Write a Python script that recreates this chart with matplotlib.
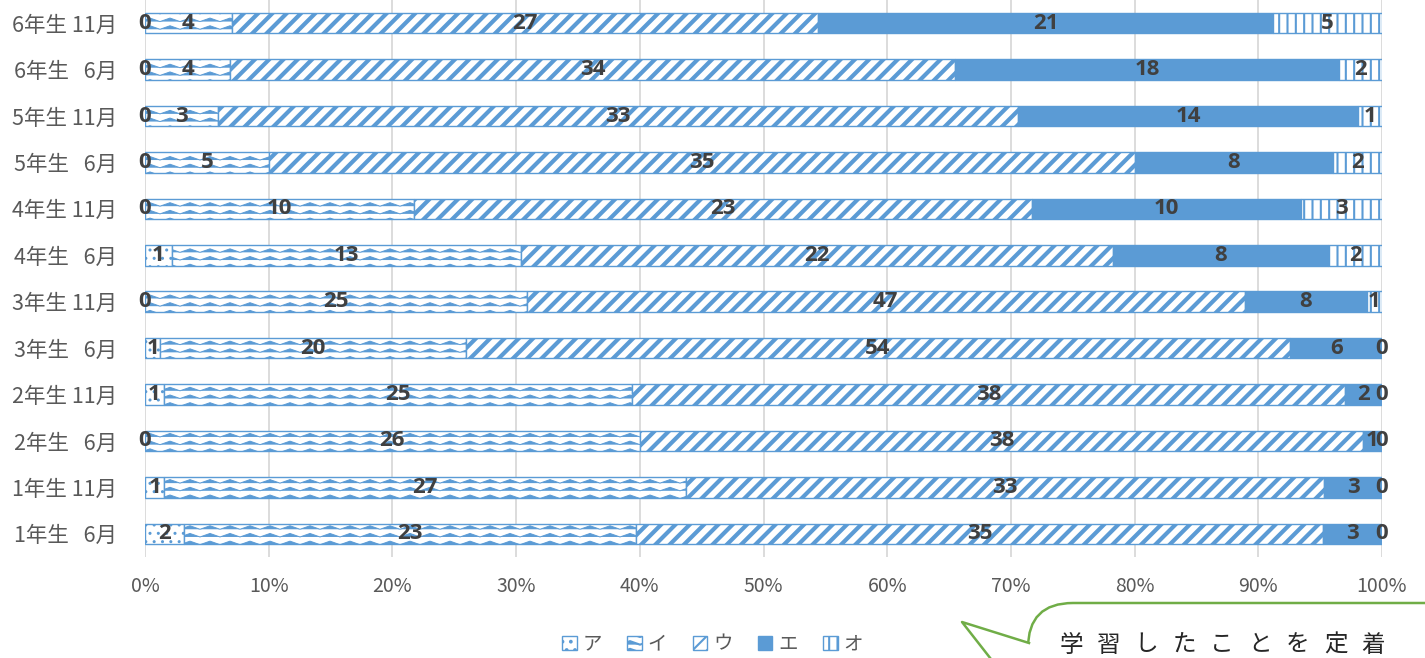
import numpy as np
import matplotlib
matplotlib.use('Agg')
import matplotlib.pyplot as plt
from matplotlib import hatch as mhatch
from matplotlib.path import Path
from matplotlib.patches import FancyBboxPatch, Polygon
from matplotlib.lines import Line2D
from matplotlib.transforms import IdentityTransform

plt.rcParams['font.family'] = ['Noto Sans CJK JP', 'DejaVu Sans']

# data, bottom row first
categories = ['1年生   6月', '1年生 11月', '2年生   6月', '2年生 11月',
              '3年生   6月', '3年生 11月', '4年生   6月', '4年生 11月',
              '5年生   6月', '5年生 11月', '6年生   6月', '6年生 11月']
series_names = ['ア', 'イ', 'ウ', 'エ', 'オ']
vals_a = [2, 1, 0, 1, 1, 0, 1, 0, 0, 0, 0, 0]
vals_i = [23, 27, 26, 25, 20, 25, 13, 10, 5, 3, 4, 4]
vals_u = [35, 33, 38, 38, 54, 47, 22, 23, 35, 33, 34, 27]
vals_e = [3, 3, 1, 2, 6, 8, 8, 10, 8, 14, 18, 21]
vals_o = [0, 0, 0, 0, 0, 1, 2, 3, 2, 1, 2, 5]
xtick_labels = ['0%', '10%', '20%', '30%', '40%', '50%', '60%', '70%', '80%', '90%', '100%']


# custom hatches: 'O' -> wavy rows, '*' -> wide diagonal stripes
class WaveHatch(mhatch.HatchPatternBase):
    def __init__(self, hatch, density):
        self.num_rows = hatch.count('O') * 13
        self.per_row = 2 * 5 + 1
        self.num_vertices = self.num_rows * self.per_row

    def set_vertices_and_codes(self, vertices, codes):
        xs = np.linspace(0, 1, self.per_row)
        bump = np.where(np.arange(self.per_row) % 2 == 0, 0.0, 0.035)
        k = 0
        for r in range(self.num_rows):
            vertices[k:k + self.per_row, 0] = xs
            vertices[k:k + self.per_row, 1] = r / self.num_rows + 0.015 + bump
            codes[k] = Path.MOVETO
            codes[k + 1:k + self.per_row] = Path.LINETO
            k += self.per_row


class DiagHatch(mhatch.HatchPatternBase):
    def __init__(self, hatch, density):
        self.offsets = np.arange(-7, 8) / 7 if hatch.count('*') else np.array([])
        self.num_vertices = len(self.offsets) * 2

    def set_vertices_and_codes(self, vertices, codes):
        vertices[0::2, 0] = self.offsets
        vertices[0::2, 1] = 0
        vertices[1::2, 0] = self.offsets + 1
        vertices[1::2, 1] = 1
        codes[0::2] = Path.MOVETO
        codes[1::2] = Path.LINETO


mhatch._hatch_types = [t for t in mhatch._hatch_types
                       if t not in (mhatch.LargeCircles, mhatch.Stars)] + [WaveHatch, DiagHatch]

blue = '#5B9BD5'
data = np.array([vals_a, vals_i, vals_u, vals_e, vals_o], dtype=float)
frac = data / data.sum(axis=0)
hatches = ['..', 'O', '*', None, '||']
hatch_lw = [1.0, 0.7, 3.0, 1.0, 1.5]

fig = plt.figure(figsize=(14.25, 6.58), dpi=100)
ax = fig.add_axes([145 / 1425, 1 - 557 / 658, 1237 / 1425, 557 / 658])

y = np.arange(len(categories))
left = np.zeros(len(categories))
containers = []
for k in range(5):
    plt.rcParams['hatch.linewidth'] = hatch_lw[k]
    bc = ax.barh(y, frac[k], left=left, height=0.44,
                 color=blue if k == 3 else 'white', edgecolor=blue,
                 linewidth=1.0, hatch=hatches[k], zorder=2)
    for p in bc:
        if hasattr(p, 'set_hatch_linewidth'):
            p.set_hatch_linewidth(hatch_lw[k])
    ax.bar_label(bc, labels=[str(int(v)) for v in data[k]], label_type='center',
                 fontsize=16, fontweight='bold', color='#404040',
                 family=['Open Sans', 'DejaVu Sans'], zorder=5)
    containers.append(bc)
    left += frac[k]

ax.set_xlim(0, 1)
ax.set_ylim(-0.5, len(categories) - 0.5)
ax.set_xticks(np.linspace(0, 1, 11))
ax.set_xticklabels(xtick_labels)
ax.set_yticks(y)
ax.set_yticklabels(categories)
ax.tick_params(axis='both', length=0, labelcolor='#595959')
ax.tick_params(axis='x', pad=14, labelsize=14)
ax.tick_params(axis='y', pad=20, labelsize=15.5)
ax.grid(axis='x', color='#D9D9D9', linewidth=1.3)
ax.set_axisbelow(True)
for s in ax.spines.values():
    s.set_visible(False)

fig.legend(containers, series_names, loc='center', bbox_to_anchor=(0.5, 1 - 644 / 658),
           ncol=5, frameon=False, fontsize=14, labelcolor='#595959',
           handlelength=0.75, handleheight=0.75, handletextpad=0.3, columnspacing=1.3)

# speech bubble at bottom right
H = 658
tr = IdentityTransform()
green = '#70AD47'
box = FancyBboxPatch((1028, H - 760), 500, 157, boxstyle='round,pad=0,rounding_size=45',
                     fc='white', ec=green, lw=1.8, transform=tr, zorder=5)
fig.add_artist(box)
tail = Polygon([(962, H - 622), (1029, H - 643), (1038, H - 645), (1038, H - 720), (1023, H - 700)],
               closed=True, fc='white', ec='none', transform=tr, zorder=6)
fig.add_artist(tail)
fig.add_artist(Line2D([1023, 962, 1029], [H - 700, H - 622, H - 643], color=green, lw=1.8,
                      transform=tr, zorder=7))
bubble_text = '学習したことを定着'
for n, ch in enumerate(bubble_text):
    fig.text(1071 + n * 37.8, H - 645, ch, transform=tr, ha='center', va='center',
             fontsize=17, color='#262626', zorder=8)

fig.savefig('out.png', dpi=100)
